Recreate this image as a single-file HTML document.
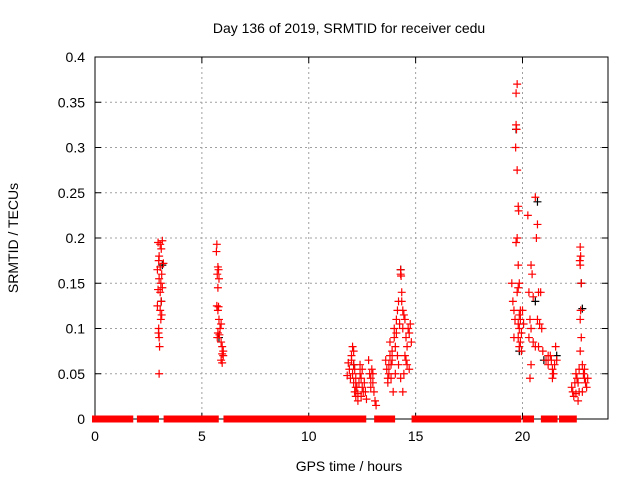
<!DOCTYPE html>
<html><head><meta charset="utf-8"><style>
body{margin:0;background:#fff;}
svg text{font-family:"Liberation Sans",sans-serif;font-size:14px;fill:#000;}
</style></head><body>
<svg id="chart" width="640" height="480">
<text x="349" y="33" text-anchor="middle">Day 136 of 2019, SRMTID for receiver cedu</text>
<text x="349" y="471" text-anchor="middle">GPS time / hours</text>
<text x="0" y="0" text-anchor="middle" transform="translate(18,238) rotate(-90)">SRMTID / TECUs</text>
<g id="grid"></g><g id="axes"></g><g id="zeros"></g><g id="pts"></g>
</svg>
<script>
const xTicks=[0,5,10,15,20];
const yTicks=[0,0.05,0.1,0.15,0.2,0.25,0.3,0.35,0.4];
const yTickLabels=["0","0.05","0.1","0.15","0.2","0.25","0.3","0.35","0.4"];
const zeroSegments=[[0,1.45],[1.6,1.65],[2.1,2.85],[3.35,5.65],[6.15,7.0],[7.15,7.95],[8.05,8.55],[8.8,12.2],[12.3,12.55],[13.2,13.9],[14.95,19.8],[20.15,20.4],[21.0,21.15],[21.3,21.5],[21.85,22.4]];
const redPts=[
[2.95,0.195],[3.05,0.193],[3.15,0.197],[3.1,0.188],[3.0,0.18],[3.2,0.172],[2.98,0.175],[3.05,0.168],[2.92,0.165],[3.12,0.16],[3.0,0.155],[3.08,0.15],[3.15,0.145],[2.95,0.143],[3.05,0.14],[3.1,0.13],[2.92,0.125],[3.05,0.12],[3.12,0.115],[3.08,0.11],[2.98,0.1],[2.97,0.095],[3.0,0.09],[3.02,0.08],[3.0,0.05],
[5.7,0.193],[5.68,0.185],[5.75,0.168],[5.78,0.165],[5.72,0.16],[5.8,0.155],[5.75,0.145],[5.7,0.125],[5.78,0.124],[5.75,0.12],[5.8,0.11],[5.9,0.105],[5.85,0.1],[5.75,0.095],[5.82,0.093],[5.72,0.09],[5.9,0.085],[5.95,0.08],[6.0,0.075],[5.95,0.072],[6.0,0.07],[5.9,0.065],[5.95,0.062],
[11.85,0.062],[11.9,0.055],[11.8,0.048],[11.95,0.045],[12.0,0.07],[12.05,0.08],[12.1,0.075],[12.0,0.065],[12.1,0.06],[12.15,0.055],[12.05,0.05],[12.2,0.045],[12.1,0.04],[12.25,0.035],[12.15,0.03],[12.3,0.028],[12.2,0.025],[12.35,0.04],[12.4,0.05],[12.45,0.045],[12.5,0.035],[12.55,0.03],[12.3,0.02],[12.45,0.025],[12.6,0.04],[12.5,0.055],[12.65,0.03],[12.7,0.022],[12.8,0.065],[12.85,0.05],[12.9,0.045],[12.95,0.055],[13.0,0.04],[13.05,0.03],[13.1,0.02],[12.9,0.035],[13.0,0.05],[13.15,0.015],[12.4,0.06],[12.2,0.035],
[13.6,0.065],[13.65,0.055],[13.7,0.045],[13.75,0.05],[13.7,0.04],[13.8,0.07],[13.85,0.06],[13.9,0.065],[13.8,0.085],[13.9,0.075],[13.95,0.03],[14.0,0.1],[14.0,0.09],[14.05,0.08],[14.1,0.11],[14.1,0.095],[14.15,0.12],[14.2,0.13],[14.2,0.06],[14.25,0.105],[14.3,0.165],[14.3,0.16],[14.32,0.158],[14.35,0.14],[14.35,0.13],[14.4,0.12],[14.4,0.1],[14.45,0.115],[14.5,0.11],[14.55,0.09],[14.6,0.08],[14.65,0.1],[14.7,0.095],[14.75,0.105],[14.8,0.085],[14.5,0.07],[14.6,0.06],[14.7,0.055],[14.45,0.05],[14.4,0.03],[14.3,0.045],[13.85,0.045],[13.75,0.06],[14.15,0.07],[14.05,0.05],[14.55,0.065],
[19.5,0.15],[19.55,0.13],[19.6,0.12],[19.65,0.11],[19.7,0.36],[19.75,0.37],[19.7,0.325],[19.72,0.32],[19.68,0.3],[19.75,0.275],[19.8,0.235],[19.82,0.23],[19.75,0.2],[19.7,0.195],[19.8,0.17],[19.85,0.15],[19.8,0.145],[19.75,0.14],[19.9,0.12],[19.85,0.115],[19.9,0.11],[19.8,0.105],[19.85,0.1],[19.95,0.095],[19.8,0.09],[19.9,0.085],[19.85,0.08],[20.0,0.12],[20.05,0.105],[19.95,0.075],[19.6,0.09],
[20.25,0.225],[20.4,0.17],[20.45,0.16],[20.3,0.14],[20.5,0.135],[20.35,0.11],[20.4,0.1],[20.3,0.09],[20.5,0.085],[20.6,0.08],[20.4,0.06],[20.35,0.045],[20.6,0.245],[20.7,0.215],[20.65,0.2],[20.75,0.14],[20.85,0.14],[20.7,0.11],[20.8,0.105],[20.75,0.08],[20.9,0.1],[20.95,0.075],[21.1,0.065],[21.2,0.07],[21.3,0.07],[21.35,0.065],[21.4,0.055],[21.45,0.05],[21.5,0.06],[21.55,0.08],[21.6,0.065],[21.4,0.045],[21.2,0.06],
[22.3,0.035],[22.35,0.03],[22.4,0.025],[22.45,0.04],[22.5,0.05],[22.55,0.045],[22.6,0.02],[22.65,0.055],[22.7,0.19],[22.72,0.18],[22.68,0.175],[22.7,0.17],[22.75,0.15],[22.72,0.12],[22.7,0.11],[22.75,0.09],[22.7,0.075],[22.8,0.06],[22.85,0.05],[22.9,0.045],[22.95,0.04],[23.0,0.035],[22.8,0.03],[22.9,0.055],[22.6,0.04],[22.65,0.03],[22.5,0.028],[23.05,0.045]
];
const blackPts=[[3.15,0.17],[3.1,0.13],[5.8,0.09],[12.1,0.06],[14.3,0.165],[19.7,0.32],[19.85,0.075],[20.7,0.24],[20.6,0.13],[21.0,0.065],[22.75,0.15],[22.8,0.122],[21.6,0.07]];
const X0=95,X1=608,Y0=419,Y1=57;
const sx=h=>X0+(X1-X0)*h/24;
const sy=v=>Y0-(Y0-Y1)*v/0.4;
const NS="http://www.w3.org/2000/svg";
function mk(tag,attrs,parent){const e=document.createElementNS(NS,tag);for(const k in attrs)e.setAttribute(k,attrs[k]);parent.appendChild(e);return e;}
const grid=document.getElementById('grid'),axes=document.getElementById('axes');
xTicks.forEach(t=>{
  if(t>0){const l=mk('line',{x1:sx(t),x2:sx(t),y1:Y1,y2:Y0,stroke:'#a0a0a0','stroke-dasharray':'2,3'},grid);
  
  }
  const tx=mk('text',{x:sx(t),y:Y0+22,'text-anchor':'middle'},axes);tx.textContent=t;
  
  
  mk('line',{x1:sx(t),x2:sx(t),y1:Y0,y2:Y0-6,stroke:'#000'},axes);
  mk('line',{x1:sx(t),x2:sx(t),y1:Y1,y2:Y1+6,stroke:'#000'},axes);
});
yTicks.forEach((t,i)=>{
  if(t>0&&t<0.4){const l=mk('line',{x1:X0,x2:X1,y1:sy(t),y2:sy(t),stroke:'#a0a0a0','stroke-dasharray':'2,3'},grid);
  
  }
  const tx=mk('text',{x:X0-10,y:sy(t)+5,'text-anchor':'end'},axes);tx.textContent=yTickLabels[i];
  
  
  mk('line',{x1:X0,x2:X0+6,y1:sy(t),y2:sy(t),stroke:'#000'},axes);
  mk('line',{x1:X1,x2:X1-6,y1:sy(t),y2:sy(t),stroke:'#000'},axes);
});
const frame=mk('rect',{x:X0,y:Y1,width:X1-X0,height:Y0-Y1,fill:'none',stroke:'#000'},axes);


const zg=document.getElementById('zeros');
zeroSegments.forEach(s=>{
  const r=mk('rect',{x:sx(s[0])-3,y:sy(0)-3.5,width:sx(s[1])-sx(s[0])+6,height:7,fill:'#f00'},zg);
  
  
});
const pg=document.getElementById('pts');
function plus(p,col){
  const x=sx(p[0]),y=sy(p[1]);
  const path=mk('path',{d:`M${x-4},${y}h8M${x},${y-4}v8`,stroke:col,'stroke-width':1.2,fill:'none'},pg);
  
  
}
blackPts.forEach(p=>plus(p,'#000'));
redPts.forEach(p=>plus(p,'#f00'));
</script>
</body></html>
